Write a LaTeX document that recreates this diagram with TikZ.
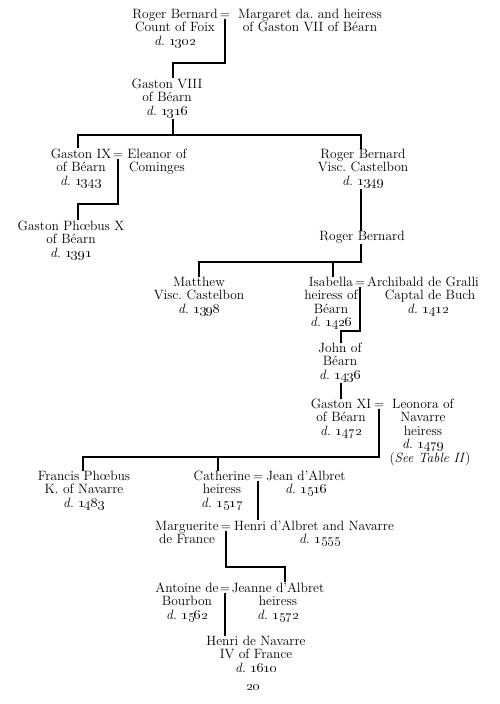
\RequirePackage{fix-cm}
\documentclass[tikz,border=0pt]{standalone}
\newcommand\died[1]{\textit{d.}~\oldstylenums{#1}}
\newcommand\tb[1]{\begin{tabular}[t]{@{}c@{}}#1\end{tabular}}
\tikzset{
  person/.style={anchor=base, inner sep=0pt, outer sep=0pt, font=\fontsize{13.5}{13.5}\selectfont},
  mar/.style={anchor=base, inner sep=0pt, outer sep=0pt, font=\fontsize{13.5}{13.5}\selectfont},
  kin/.style={line width=1.15pt},
}
\begin{document}
\begin{tikzpicture}[x=1pt,y=-1pt]
\useasboundingbox (0,0) rectangle (500,704);
% generation 1
\node[person] (rbfoix) at (175,18) {\tb{Roger Bernard\\Count of Foix\\\died{1302}}};
\node[mar] (eq1) at (225,18) {=};
\node[person] (margaret) at (310,18) {\tb{Margaret da.\ and heiress\\of Gaston VII of B\'earn}};
% generation 2
\node[person] (gaston8) at (167,88) {\tb{Gaston VIII\\of B\'earn\\\died{1316}}};
\coordinate (j1) at (173,63);
\draw[kin] ([yshift=-0.5pt]eq1.base) |- (j1) -- (gaston8.north -| j1);
% generation 3
\node[person] (gaston9) at (81,158) {\tb{Gaston IX\\of B\'earn\\\died{1343}}};
\node[mar] (eq2) at (118,158) {=};
\node[person] (eleanor) at (157,158) {\tb{Eleanor of\\Cominges}};
\node[person] (rbcast) at (363,158) {\tb{Roger Bernard\\Visc.\ Castelbon\\\died{1349}}};
\coordinate (b2l) at (78,135);
\coordinate (b2r) at (361,135);
\draw[kin] (gaston8.south -| j1) -- (j1 |- b2l);
\draw[kin] (gaston9.north -| b2l) -- (b2l) -- (b2r) -- (rbcast.north -| b2r);
% Gaston Phoebus
\node[person] (phoebus) at (71,230) {\tb{Gaston Ph\oe bus X\\of B\'earn\\\died{1391}}};
\coordinate (j3) at (78,204);
\draw[kin] ([yshift=-0.5pt]eq2.base) |- (j3) -- (phoebus.north -| j3);
% Roger Bernard II
\node[person] (rb2) at (362,240) {\tb{Roger Bernard}};
\draw[kin] (rbcast.south -| b2r) -- (rb2.north -| b2r);
\node[person] (matthew) at (199,286) {\tb{Matthew\\Visc.\ Castelbon\\\died{1398}}};
\node[person] (isabella) at (331,286) {\tb{Isabella\\heiress of\\B\'earn\\\died{1426}}};
\node[mar] (eq3) at (360,286) {=};
\node[person] (archibald) at (423,286) {\tb{Archibald de Gralli\\\hspace*{14pt}Captal de Buch\\\hspace*{10pt}\died{1412}}};
\coordinate (b3l) at (199,262);
\coordinate (b3r) at (361,262);
\coordinate (b3m) at (333,262);
\draw[kin] (rb2.south -| b3r) -- (b3r) -- (b3l) -- (matthew.north -| b3l);
\draw[kin] (b3m) -- (isabella.north -| b3m);
% John of Bearn
\node[person] (john) at (340,352) {\tb{John of\\B\'earn\\\died{1436}}};
\coordinate (j4) at (341,331);
\draw[kin] ([yshift=-0.5pt]eq3.base) |- (j4) -- (john.north -| j4);
% Gaston XI
\node[person] (gaston11) at (341,408) {\tb{Gaston XI\\of B\'earn\\\died{1472}}};
\node[mar] (eq4) at (379,408) {=};
\node[person] (leonora) at (423,408) {\tb{Leonora of\\Navarre\\heiress\\\died{1479}\\\hspace*{14pt}(\textit{See Table II})}};
\draw[kin] (john.south -| j4) -- (gaston11.north -| j4);
% children of Gaston XI
\node[person] (francis) at (84,480) {\tb{Francis Ph\oe bus\\K. of Navarre\\\died{1483}}};
\node[person] (catherine) at (222,480) {\tb{Catherine\\heiress\\\died{1517}}};
\node[mar] (eq5) at (258,480) {=};
\node[person] (jean) at (306,480) {\tb{Jean d'Albret\\\died{1516}}};
\coordinate (b6l) at (83,457);
\coordinate (b6m) at (218,457);
\draw[kin] ([yshift=-0.5pt]eq4.base) |- (b6l) -- (francis.north -| b6l);
\draw[kin] (b6m) -- (catherine.north -| b6m);
% Henri d'Albret
\node[person] (marguerite) at (187,530) {\tb{Marguerite\\de France}};
\node[mar] (eq6) at (226,530) {=};
\node[person] (henri) at (314,530) {\tb{Henri d'Albret and Navarre\\\hspace*{12pt}\died{1555}}};
\draw[kin] ([yshift=-0.5pt]eq5.base) -- (henri.north -| eq5);
% Jeanne d'Albret
\node[person] (antoine) at (187,592) {\tb{Antoine de\\Bourbon\\\died{1562}}};
\node[mar] (eq7) at (225,592) {=};
\node[person] (jeanne) at (278,592) {\tb{Jeanne d'Albret\\heiress\\\died{1572}}};
\coordinate (j8) at (285,567);
\draw[kin] ([yshift=-0.5pt]eq6.base) |- (j8) -- (jeanne.north -| j8);
% Henri IV
\node[person] (henri4) at (256,645) {\tb{Henri de Navarre\\IV of France\\\died{1610}}};
\draw[kin] ([yshift=-0.5pt]eq7.base) -- (henri4.north -| eq7);
% page number
\node[person] (page) at (253,690) {\oldstylenums{20}};
\end{tikzpicture}
\end{document}
